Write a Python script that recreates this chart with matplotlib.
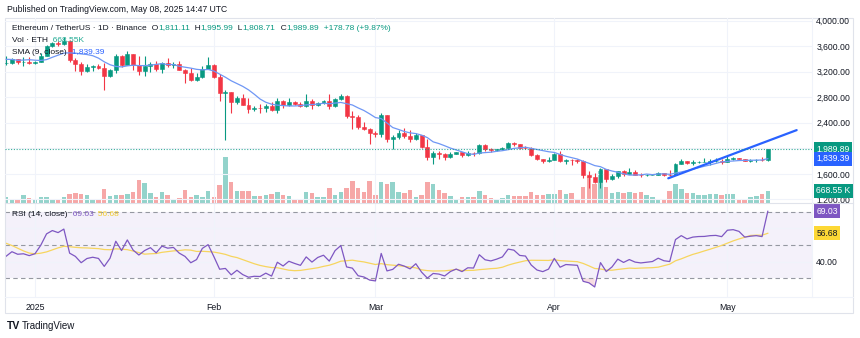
import numpy as np
import pandas as pd
import matplotlib
matplotlib.use("Agg")
import matplotlib.pyplot as plt
import matplotlib.dates as mdates
from matplotlib.lines import Line2D
from matplotlib.patches import Rectangle

plt.rcParams['font.family'] = ['Liberation Sans', 'DejaVu Sans']

# closes from Nov 20 to Dec 26 2024, only used to warm up SMA / RSI (not drawn)
warmup_close = [3070, 3355, 3328, 3393, 3361, 3415, 3325, 3655, 3580, 3593, 3705,
                3708, 3642, 3614, 3838, 3786, 3996, 3995, 4005, 3710, 3628, 3831, 3880,
                3906, 3873, 3960, 3985, 3875, 3630, 3420, 3468, 3326, 3282, 3421, 3493,
                3480, 3331]

dates = pd.date_range("2024-12-27", "2025-05-08", freq="D")

opens = [3331, 3333, 3394, 3353, 3359,
         3332, 3353, 3451, 3606, 3657, 3635, 3686, 3380, 3327, 3218, 3268, 3283, 3265, 3137, 3225, 3450,
         3308, 3475, 3307, 3215, 3283, 3327, 3240, 3340, 3308, 3318, 3233, 3182, 3077, 3113, 3250,
         3300, 3120, 2870, 2880, 2732, 2786, 2686, 2622, 2632, 2627, 2659, 2602, 2739, 2676, 2725, 2691,
         2662, 2744, 2671, 2716, 2738, 2662, 2765, 2820, 2509, 2486, 2333, 2306,
         2237, 2218, 2518, 2150, 2171, 2240, 2200, 2140, 2203, 2020, 1866, 1922, 1907, 1863, 1911, 1937,
         1888, 1926, 1922, 2057, 1983, 1966, 1983, 2004, 2080, 2068, 2010, 2003, 1896, 1828, 1805,
         1823, 1904, 1795, 1816, 1812, 1807, 1580, 1553, 1473, 1669, 1522, 1566, 1644, 1595, 1623, 1588,
         1577, 1583, 1588, 1613, 1587, 1579, 1756, 1796, 1769, 1786, 1791, 1792, 1798, 1800,
         1793, 1838, 1842, 1834, 1807, 1812, 1815, 1811.11]
highs = [3440, 3419, 3405, 3430, 3430,
         3366, 3500, 3618, 3672, 3675, 3745, 3701, 3412, 3360, 3322, 3300, 3318, 3340, 3248, 3474, 3470,
         3525, 3480, 3450, 3450, 3350, 3365, 3352, 3420, 3360, 3365, 3245, 3255, 3180, 3283, 3437,
         3322, 3160, 2920, 2890, 2825, 2855, 2795, 2660, 2700, 2690, 2720, 2790, 2750, 2790, 2740, 2720,
         2850, 2770, 2730, 2760, 2845, 2785, 2855, 2830, 2585, 2520, 2410, 2320,
         2275, 2550, 2525, 2215, 2285, 2320, 2285, 2240, 2210, 2150, 1960, 1955, 1925, 1940, 1950, 1940,
         1955, 1935, 2068, 2070, 2000, 1995, 2015, 2105, 2095, 2070, 2035, 2015, 1910, 1840, 1860,
         1920, 1955, 1830, 1830, 1830, 1815, 1640, 1620, 1690, 1672, 1590, 1650, 1660, 1690, 1660, 1612,
         1600, 1600, 1625, 1618, 1660, 1770, 1830, 1805, 1815, 1805, 1855, 1825, 1845, 1830,
         1875, 1865, 1855, 1840, 1830, 1830, 1865, 1995.99]
lows = [3302, 3325, 3325, 3295, 3320,
        3320, 3348, 3440, 3590, 3600, 3620, 3357, 3207, 3155, 3190, 3210, 3235, 2920, 3125, 3185, 3272,
        3300, 3225, 3156, 3140, 3200, 3215, 3180, 3270, 3265, 3230, 3020, 3060, 3060, 3100, 3240,
        3100, 2740, 2125, 2550, 2700, 2680, 2560, 2590, 2550, 2570, 2580, 2560, 2635, 2670, 2680, 2650,
        2650, 2610, 2660, 2700, 2620, 2655, 2750, 2475, 2310, 2300, 2280, 2075,
        2175, 2170, 2105, 1993, 2140, 2160, 2100, 2130, 2000, 1810, 1760, 1830, 1820, 1855, 1905, 1860,
        1885, 1875, 1905, 1960, 1945, 1960, 1975, 2000, 2040, 1995, 1990, 1880, 1810, 1775, 1790,
        1818, 1780, 1760, 1745, 1770, 1540, 1385, 1450, 1385, 1470, 1505, 1540, 1565, 1590, 1585, 1555,
        1565, 1575, 1580, 1565, 1568, 1578, 1750, 1750, 1745, 1775, 1785, 1740, 1780, 1755,
        1790, 1820, 1825, 1800, 1785, 1780, 1795, 1808.71]
closes = [3333, 3394, 3353, 3359, 3332,
          3353, 3451, 3606, 3657, 3635, 3686, 3380, 3327, 3218, 3268, 3283, 3265, 3137, 3225, 3450, 3308,
          3475, 3307, 3215, 3283, 3327, 3240, 3340, 3308, 3318, 3233, 3182, 3077, 3113, 3250, 3300,
          3120, 2870, 2880, 2732, 2786, 2686, 2622, 2632, 2627, 2659, 2602, 2739, 2676, 2725, 2691, 2662,
          2744, 2671, 2716, 2738, 2662, 2765, 2820, 2509, 2486, 2333, 2306, 2237,
          2218, 2518, 2150, 2171, 2240, 2200, 2140, 2203, 2020, 1866, 1922, 1907, 1863, 1911, 1937, 1888,
          1926, 1922, 2057, 1983, 1966, 1983, 2004, 2080, 2068, 2010, 2003, 1896, 1828, 1805, 1823,
          1904, 1795, 1816, 1812, 1807, 1580, 1553, 1473, 1669, 1522, 1566, 1644, 1595, 1623, 1588, 1577,
          1583, 1588, 1613, 1587, 1579, 1756, 1796, 1769, 1786, 1791, 1792, 1798, 1800, 1793,
          1838, 1842, 1834, 1807, 1812, 1815, 1811.11, 1989.89]
# volume in thousands of ETH
volume_k = [335, 185, 185, 430, 280,
            185, 335, 335, 205, 185, 335, 520, 575, 520, 465, 185, 185, 795, 375, 465, 465,
            500, 615, 1265, 1095, 540, 335, 595, 445, 205, 295, 705, 335, 430, 335, 650,
            335, 985, 2560, 1170, 650, 685, 685, 375, 375, 430, 500, 595, 465, 405, 225, 225,
            595, 555, 335, 335, 835, 465, 595, 835, 1240, 835, 595, 1210,
            465, 1170, 1060, 1170, 630, 555, 740, 335, 465, 1170, 1075, 740, 555, 375, 205, 335,
            335, 335, 670, 430, 280, 205, 280, 465, 375, 405, 390, 595, 465, 465, 500,
            500, 705, 500, 555, 205, 890, 1450, 1060, 1780, 890, 555, 615, 555, 615, 555, 615,
            465, 335, 205, 205, 670, 1040, 795, 555, 555, 430, 430, 520, 520, 430,
            520, 500, 225, 225, 335, 390, 500, 668.55]

# hand drawn trend line (start / end)
trend_dates = ["2025-04-20 18:00", "2025-05-13 00:00"]
trend_prices = [1530, 2285]

month_starts = ["2025-01-01", "2025-02-01", "2025-03-01", "2025-04-01", "2025-05-01"]
month_labels = ["2025", "Feb", "Mar", "Apr", "May"]
price_ticks = [1200, 1600, 2000, 2400, 2800, 3200, 3600, 4000]
rsi_ticks = [40, 60]

n = len(dates)
assert len(opens) == len(highs) == len(lows) == len(closes) == len(volume_k) == n

UP = '#089981'
DN = '#F23645'
TXT = '#131722'
GRID = '#F0F3FA'
BORDER = '#E0E3EB'
W, H = 860, 338


def fx(px):
    return px / W


def fy(py):
    return 1 - py / H


# indicators
all_close = np.array(warmup_close + closes, dtype=float)
sma9 = pd.Series(all_close).rolling(9).mean().to_numpy()[-n:]


def rma(v, length):
    out = np.full(len(v), np.nan)
    out[length - 1] = v[:length].mean()
    for i in range(length, len(v)):
        out[i] = (out[i - 1] * (length - 1) + v[i]) / length
    return out


chg = np.diff(all_close)
avg_up = rma(np.clip(chg, 0, None), 14)
avg_dn = rma(np.clip(-chg, 0, None), 14)
rsi_all = 100 - 100 / (1 + avg_up / avg_dn)
rsi_ma = pd.Series(rsi_all).rolling(14).mean().to_numpy()[-n:]
rsi = rsi_all[-n:]

o = np.array(opens, float)
h = np.array(highs, float)
l = np.array(lows, float)
c = np.array(closes, float)
vol = np.array(volume_k, float)
x = mdates.date2num(dates)
up = c >= o
cols = np.where(up, UP, DN)
vcols = np.where(up, '#93D3CB', '#F6A7A7')

jan1 = mdates.date2num(pd.Timestamp("2025-01-01"))
x_left, x_right = jan1 - 5.2, jan1 + 134.66
mx = mdates.date2num(pd.to_datetime(month_starts))

fig = plt.figure(figsize=(8.6, 3.38), dpi=100)
ax = fig.add_axes([fx(5), fy(203), fx(812) - fx(5), (203 - 18) / H])
axv = ax.twinx()
ax.set_zorder(axv.get_zorder() + 1)
ax.patch.set_visible(False)
ax_r = fig.add_axes([fx(5), fy(297), fx(812) - fx(5), (297 - 203) / H], sharex=ax)

# volume
axv.bar(x, vol, width=0.78, color=vcols, lw=0)
axv.set_ylim(0, 185 * 55.7)
axv.set_yticks([])

# candles
ax.vlines(x, l, h, colors=cols, lw=0.8)
ax.bar(x, np.abs(c - o), bottom=np.minimum(o, c), width=0.68, color=cols, edgecolor=cols, lw=0.4)
ax.plot(x, sma9, color='#6F97F5', lw=0.9)
ax.plot(mdates.date2num(pd.to_datetime(trend_dates)), trend_prices, color='#2962FF', lw=1.6,
        solid_capstyle='round')
ax.axhline(c[-1], color=UP, lw=0.8, ls=(0, (1, 1.5)), alpha=0.8)

ax.set_xlim(x_left, x_right)
ax.set_ylim(1143, 4042)
ax.set_xticks(mx)
ax.set_yticks(price_ticks)
ax.yaxis.tick_right()
ax.yaxis.set_major_formatter(plt.FuncFormatter(lambda v, p: f"{v:,.2f}"))
ax.tick_params(axis='y', length=0, pad=3, labelsize=6.2, labelcolor=TXT)
ax.tick_params(axis='x', length=0, labelbottom=False)
ax.grid(True, color=GRID, lw=0.8)
ax.set_axisbelow(True)

# RSI pane
ax_r.axhspan(30, 70, color='#7E57C2', alpha=0.08, lw=0)
for lvl in (70, 50, 30):
    ax_r.axhline(lvl, color='#9598A1', lw=0.8, ls=(0, (4, 3)))
ax_r.fill_between(x, rsi, 30, where=rsi < 30, color='#F2C6CF', alpha=0.6, lw=0)
ax_r.plot(x, rsi_ma, color='#F7D55E', lw=0.9)
ax_r.plot(x, rsi, color='#7E57C2', lw=0.9)
ax_r.set_ylim(18.8, 75.2)
ax_r.set_yticks(rsi_ticks)
ax_r.yaxis.tick_right()
ax_r.yaxis.set_major_formatter(plt.FuncFormatter(lambda v, p: f"{v:.2f}"))
ax_r.tick_params(axis='y', length=0, pad=3, labelsize=6.2, labelcolor=TXT)
ax_r.set_xticks(mx)
ax_r.set_xticklabels(month_labels)
ax_r.tick_params(axis='x', length=0, pad=4, labelsize=6.3, labelcolor=TXT)
ax_r.grid(True, color=GRID, lw=0.8)

for a in (ax, axv, ax_r):
    for s in a.spines.values():
        s.set_visible(False)


def tag(yval, text, fc, tc, trans):
    ax.annotate(text, xy=(1, yval), xycoords=trans, xytext=(3, 0), textcoords='offset points',
                va='center', ha='left', fontsize=6.2, color=tc, annotation_clip=False,
                bbox=dict(boxstyle='square,pad=0.3', fc=fc, ec='none'))


tag(c[-1], "1,989.89", UP, 'white', ax.get_yaxis_transform())
tag(sma9[-1], "1,839.39", '#2962FF', 'white', ax.get_yaxis_transform())
tag(vol[-1], "668.55 K", UP, 'white', axv.get_yaxis_transform())
tag(rsi[-1], "69.03", '#7E57C2', 'white', ax_r.get_yaxis_transform())
tag(rsi_ma[-1], "56.68", '#FDD835', TXT, ax_r.get_yaxis_transform())


def chain(px, py, parts, size=6.0):
    prev = fig.text(fx(px), fy(py), parts[0][0], color=parts[0][1], fontsize=size,
                    va='center', ha='left')
    for s, col in parts[1:]:
        prev = ax.annotate(s, xy=(1, 0.5), xycoords=prev, xytext=(0, 0),
                           textcoords='offset points', va='center', ha='left',
                           fontsize=size, color=col, annotation_clip=False)


chain(7, 10, [("Published on TradingView.com, May 08, 2025 14:47 UTC", TXT)], 6.2)
chain(12, 28, [("Ethereum / TetherUS · 1D · Binance", TXT), ("  O", TXT), ("1,811.11", UP),
               ("  H", TXT), ("1,995.99", UP), ("  L", TXT), ("1,808.71", UP),
               ("  C", TXT), ("1,989.89", UP), ("  +178.78 (+9.87%)", UP)])
chain(12, 40, [("Vol · ETH", TXT), ("  668.55K", '#22AB94')])
chain(12, 52, [("SMA (9, close)", TXT), ("  1,839.39", '#2962FF')])
chain(12, 214, [("RSI (14, close)", TXT), ("  69.03", '#7E57C2'), ("  56.68", '#F2CB2E')])

# frame and pane separators
fig.add_artist(Rectangle((fx(5), fy(313)), fx(853) - fx(5), (313 - 18) / H,
                         transform=fig.transFigure, fill=False, ec=BORDER, lw=0.8))
fig.add_artist(Line2D([fx(5), fx(853)], [fy(203), fy(203)], color=BORDER, lw=0.8))
fig.add_artist(Line2D([fx(5), fx(853)], [fy(297), fy(297)], color=GRID, lw=0.8))
fig.add_artist(Line2D([fx(812), fx(812)], [fy(18), fy(297)], color=GRID, lw=0.8))

# logo
fig.text(fx(7), fy(326), "TV", fontsize=7.5, fontweight='heavy', color=TXT, va='center')
fig.text(fx(22), fy(326), "TradingView", fontsize=7, color=TXT, va='center')

fig.savefig("out.png", dpi=100)
